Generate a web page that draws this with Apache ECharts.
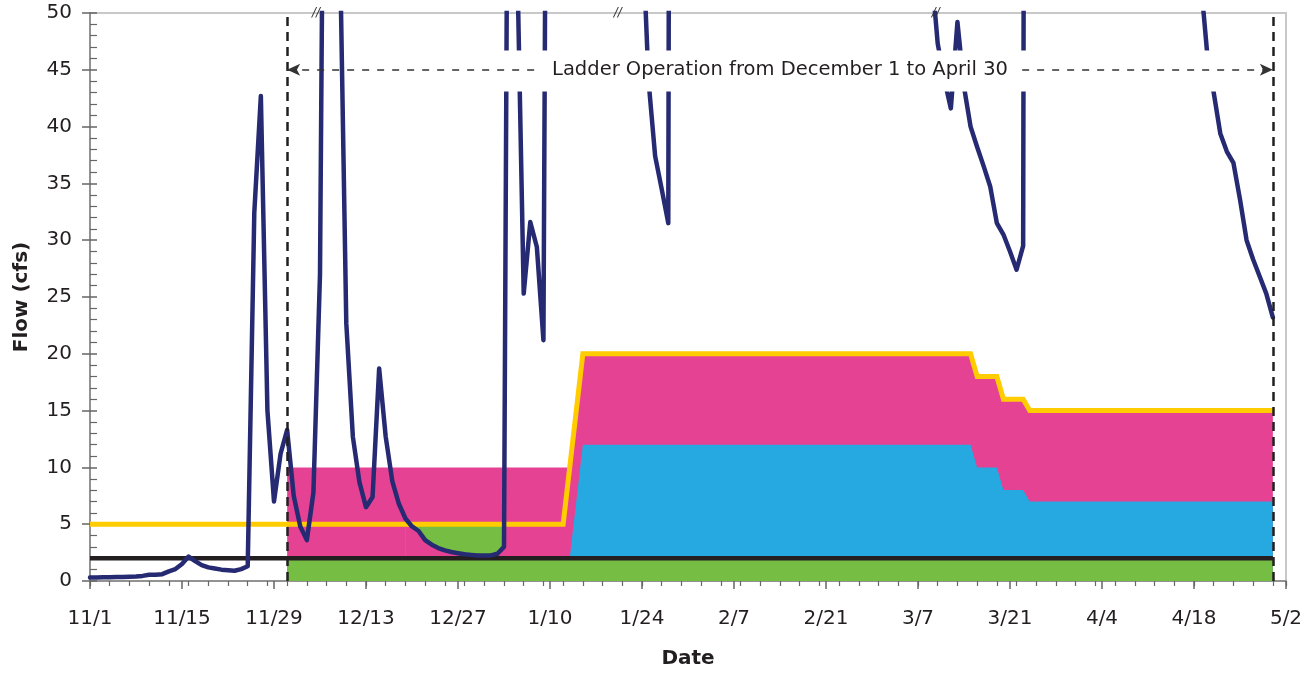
<!DOCTYPE html>
<html>
<head>
<meta charset="utf-8">
<script src="https://cdn.jsdelivr.net/npm/echarts@6/dist/echarts.min.js"></script>
<style>
  html, body { margin: 0; padding: 0; background: #ffffff; }
  #chart { width: 1312px; height: 673px; }
</style>
</head>
<body>
<div id="chart"></div>
<script>
// X axis runs in days counted from 11/1 (day 0) to 5/2 (day 182).
const tickLabels = ['11/1', '11/15', '11/29', '12/13', '12/27', '1/10', '1/24',
                    '2/7', '2/21', '3/7', '3/21', '4/4', '4/18', '5/2'];
const tickStepDays = 14;
const lastDay = 182;

// Daily stream flow (cfs), 11/1 through 4/30; values above 50 run off the top of the plot.
const flowCfs = [
  0.3, 0.3, 0.32, 0.33, 0.35, 0.36, 0.38, 0.4, 0.45, 0.55,
  0.55, 0.6, 0.85, 1.05, 1.5, 2.15, 1.75, 1.4, 1.2, 1.1,
  1.0, 0.95, 0.9, 1.05, 1.3, 32.4, 42.7, 15.0, 7.0, 11.2,
  13.3, 7.5, 4.8, 3.6, 7.8, 27.0, 105, 90, 57, 22.7,
  12.7, 8.7, 6.5, 7.4, 18.7, 12.7, 8.8, 6.8, 5.5, 4.8,
  4.4, 3.6, 3.2, 2.9, 2.7, 2.55, 2.45, 2.35, 2.3, 2.25,
  2.25, 2.25, 2.4, 3.0, 118, 55, 25.3, 31.6, 29.4, 21.2,
  140, 165, 190, 150, 128, 112, 104, 96, 90, 84,
  79, 74, 70, 64, 58, 44, 37.4, 34.5, 31.5, 300,
  240, 190, 160, 140, 125, 115, 108, 100, 95, 88,
  84, 80, 78, 92, 130, 118, 104, 96, 90, 85,
  82, 79, 76, 74, 110, 150, 132, 118, 106, 98,
  90, 84, 79, 74, 70, 66, 62, 58, 54, 47.3,
  44.2, 41.6, 49.2, 43.5, 40.0, 38.2, 36.5, 34.7, 31.5, 30.5,
  29.0, 27.4, 29.5, 320, 260, 210, 175, 150, 132, 120,
  110, 102, 96, 90, 86, 82, 78, 75, 72, 70,
  68, 74, 96, 88, 82, 77, 73, 70, 62, 53,
  46.5, 43, 39.4, 37.8, 36.8, 33.6, 30.0, 28.3, 26.8, 25.3,
  23.2
];

// Ladder flow target (yellow) and its allocation bands, as [day, cfs].
const targetFlow = [[0, 5], [72, 5], [75, 20], [134, 20], [135, 18], [138, 18],
                    [139, 16], [142, 16], [143, 15], [180, 15]];
const pinkBandTop = [[30, 10], [73, 10], [75, 20], [134, 20], [135, 18], [138, 18],
                     [139, 16], [142, 16], [143, 15], [180, 15]];
const blueBandTop = [[73, 2], [75, 12], [134, 12], [135, 10], [138, 10],
                     [139, 8], [142, 8], [143, 7], [180, 7]];
const greenBase = [[30, 2], [180, 2]];
const greenDeficit = [[48, 5], [63, 5]];
const deficitDays = [48, 64];
const minimumFlow = [[0, 2], [180, 2]];

// Ladder operating season and annotations.
const ladderStart = 30;   // December 1
const ladderEnd = 180;    // April 30
const arrowLevel = 45;
const ladderText = 'Ladder Operation from December 1 to April 30';
const labelBox = [[39, 46.7], [171.5, 43.1]];
const breakDays = [34.4, 80.3, 128.7];

const FONT = 'DejaVu Sans';
const INK = '#231f20';
const NAVY = '#262a72';
const PINK = '#e64294';
const BLUE = '#25a9e0';
const GREEN = '#76bd43';
const YELLOW = '#ffcc00';

const flowPoints = flowCfs.map((v, i) => [i, v]);
const deficitFloor = flowPoints.slice(deficitDays[0], deficitDays[1]);

function band(name, data, color) {
  return {
    name, type: 'line', data, symbol: 'none', silent: true, z: 2,
    lineStyle: { width: 0, color }, itemStyle: { color },
    areaStyle: { color, opacity: 1 }
  };
}

const chart = echarts.init(document.getElementById('chart'), null, { renderer: 'canvas' });

chart.setOption({
  animation: false,
  backgroundColor: '#ffffff',
  textStyle: { fontFamily: FONT, color: INK },
  grid: {
    left: 90, right: 26, top: 13, bottom: 92,
    show: true, borderColor: '#c8c8c8', borderWidth: 2,
    outerBoundsMode: 'none'
  },
  xAxis: [
    {
      type: 'value', min: 0, max: lastDay, interval: tickStepDays, position: 'bottom',
      axisLine: { show: true, lineStyle: { color: '#808080', width: 1.5 } },
      axisTick: { show: true, length: 8, lineStyle: { color: '#666666', width: 1.5 } },
      axisLabel: {
        margin: 28, fontFamily: FONT, fontSize: 20, color: INK,
        formatter: v => tickLabels[Math.round(v / tickStepDays)] || ''
      },
      splitLine: { show: false },
      name: 'Date', nameLocation: 'middle', nameGap: 68,
      nameTextStyle: { fontFamily: FONT, fontSize: 20, fontWeight: 'bold', color: INK }
    },
    {
      type: 'value', min: 0, max: lastDay, interval: 3, position: 'bottom',
      axisLine: { show: false },
      axisTick: { show: true, length: 5, lineStyle: { color: '#666666', width: 1.2 } },
      axisLabel: { show: false },
      splitLine: { show: false }
    }
  ],
  yAxis: [
    {
      type: 'value', min: 0, max: 50, interval: 5, position: 'left',
      axisLine: { show: true, lineStyle: { color: '#808080', width: 1.5 } },
      axisTick: { show: true, length: 8, lineStyle: { color: '#666666', width: 1.5 } },
      axisLabel: { margin: 18, fontFamily: FONT, fontSize: 20, color: INK },
      splitLine: { show: false },
      name: 'Flow (cfs)', nameLocation: 'middle', nameGap: 58,
      nameTextStyle: { fontFamily: FONT, fontSize: 20, fontWeight: 'bold', color: INK }
    },
    {
      type: 'value', min: 0, max: 50, interval: 5, position: 'left',
      axisLine: { show: false },
      axisTick: { show: true, inside: true, length: 7, lineStyle: { color: '#666666', width: 1.5 } },
      minorTick: { show: true, splitNumber: 5, length: 7, lineStyle: { color: '#666666', width: 1.2 } },
      axisLabel: { show: false },
      splitLine: { show: false }
    }
  ],
  series: [
    band('Ladder band', pinkBandTop, PINK),
    band('Bypass band', blueBandTop, BLUE),
    band('Deficit', greenDeficit, GREEN),
    band('Deficit floor', deficitFloor, PINK),
    band('Minimum band', greenBase, GREEN),
    {
      name: 'Target flow', type: 'line', data: targetFlow, symbol: 'none', silent: true, z: 3,
      lineStyle: { color: YELLOW, width: 5, join: 'miter' }, itemStyle: { color: YELLOW },
      markArea: {
        z: 6, silent: true,
        itemStyle: { color: '#ffffff', borderWidth: 0 },
        data: [[{ coord: labelBox[0] }, { coord: labelBox[1] }]]
      },
      markPoint: {
        z: 8, silent: true,
        data: breakDays.map(d => ({
          coord: [d, 50], symbol: 'rect', symbolSize: [1, 1],
          itemStyle: { color: 'rgba(0,0,0,0)' },
          label: {
            show: true, position: 'inside', formatter: '//',
            fontFamily: FONT, fontSize: 12, fontStyle: 'italic', color: '#333333'
          }
        }))
      }
    },
    {
      name: 'Minimum flow', type: 'line', data: minimumFlow, symbol: 'none', silent: true, z: 3,
      lineStyle: { color: INK, width: 4.5 }, itemStyle: { color: INK },
      markLine: {
        z: 5, silent: true, symbol: 'none',
        label: { show: false },
        lineStyle: { color: INK, width: 2.5, type: [9, 6] },
        data: [{ xAxis: ladderStart }, { xAxis: ladderEnd }]
      }
    },
    {
      name: 'Flow', type: 'line', data: flowPoints, symbol: 'none', silent: true, z: 4,
      lineStyle: { color: NAVY, width: 4.5, join: 'round', cap: 'round' }, itemStyle: { color: NAVY },
      markLine: {
        z: 7, silent: true,
        symbol: ['arrow', 'arrow'], symbolSize: [9, 13],
        label: { show: false },
        lineStyle: { color: '#333333', width: 1.5, type: [7, 8] },
        itemStyle: { color: '#333333' },
        data: [[{ coord: [ladderStart, arrowLevel] }, { coord: [ladderEnd, arrowLevel] }]]
      },
      markPoint: {
        z: 8, silent: true,
        data: [{
          coord: [(ladderStart + ladderEnd) / 2, arrowLevel], symbol: 'rect', symbolSize: [1, 1],
          itemStyle: { color: 'rgba(0,0,0,0)' },
          label: {
            show: true, position: 'inside', formatter: ladderText,
            fontFamily: FONT, fontSize: 19.5, color: INK,
            backgroundColor: '#ffffff', padding: [4, 14]
          }
        }]
      }
    }
  ]
});
</script>
</body>
</html>
